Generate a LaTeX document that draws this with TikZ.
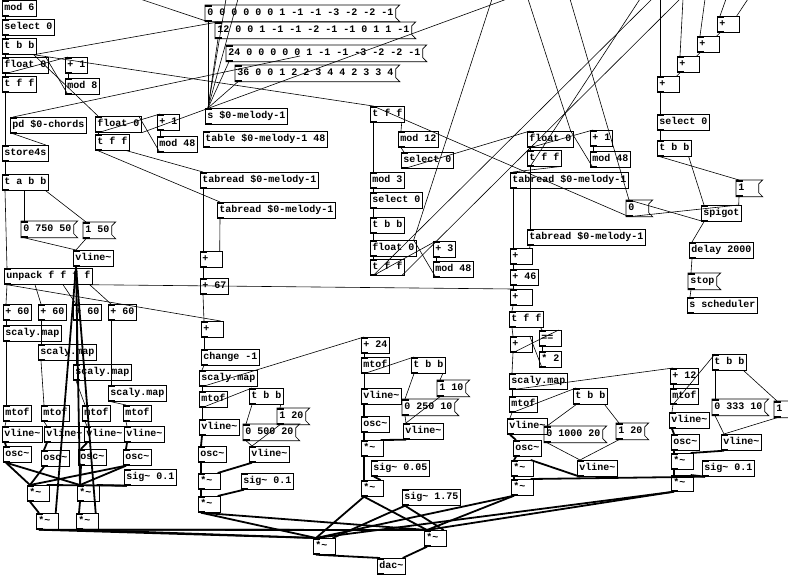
\documentclass[tikz,border=0pt]{standalone}
\usepackage{fontspec}
\newfontfamily\pdfnt{Liberation Mono}
\newlength\pdw
\newcommand\pdtext[1]{\settowidth\pdw{#1}\ifdim\pdw<18pt\pdw=18pt\fi\makebox[\pdw][l]{#1}}
\tikzset{
 obj/.style={draw, line width=0.7pt, anchor=north west, inner xsep=2pt, inner ysep=0pt,
   minimum height=16pt, font=\pdfnt\bfseries\fontsize{10}{10}\selectfont, text height=7pt, text depth=2pt},
 msgn/.style={obj, draw=none},
 bx/.style={line width=0.7pt},
 c/.style={line width=0.6pt},
 s/.style={line width=1.8pt},
}
\newcommand\pdobj[4]{\node[obj] (#1) at (#2,#3) {\pdtext{#4}};
 \fill (#1.north west) rectangle ++(7,2); \fill (#1.south west) rectangle ++(7,-2);}
\newcommand\pdmsg[4]{\node[msgn] (#1) at (#2,#3) {\pdtext{#4}};
 \draw[bx] (#1.north west) -- ([xshift=4pt]#1.north east) -- ([yshift=-4pt]#1.north east) -- ([yshift=4pt]#1.south east) -- ([xshift=4pt]#1.south east) -- (#1.south west) -- cycle;
 \fill (#1.north west) rectangle ++(7,2); \fill (#1.south west) rectangle ++(7,-2);}
\newcommand\cLL[3][c]{\draw[#1] ([xshift=3pt]#2.south west) -- ([xshift=3pt]#3.north west);}
\newcommand\cLR[3][c]{\draw[#1] ([xshift=3pt]#2.south west) -- ([xshift=-3pt]#3.north east);}
\newcommand\cRL[3][c]{\draw[#1] ([xshift=-3pt]#2.south east) -- ([xshift=3pt]#3.north west);}
\newcommand\cRR[3][c]{\draw[#1] ([xshift=-3pt]#2.south east) -- ([xshift=-3pt]#3.north east);}
\begin{document}
\begin{tikzpicture}[x=1pt,y=-1pt]
\useasboundingbox (0,0) rectangle (788,576);
\fill[white] (0,0) rectangle (788,576);
\clip (0,0) rectangle (788,576);
% ---------- top left
\pdobj{modsix}{2}{0}{mod 6}
\pdobj{selA}{2}{19}{select 0}
\pdobj{tbbA}{2}{38}{t b b}
\pdobj{floatA}{2}{57}{float 0}
\pdobj{plusA}{65}{57}{+ 1}
\pdobj{tffA}{2}{76}{t f f}
\pdobj{modA}{65}{78}{mod 8}
\pdobj{pdch}{10}{117}{pd \$0-chords}
\pdobj{store}{2}{145}{store4s}
\pdobj{tabb}{2}{174}{t a b b}
\pdobj{floatB}{95}{116}{float 0}
\pdobj{tffB}{95}{134}{t f f}
\pdobj{plusB}{157}{114}{+ 1}
\pdobj{modB}{157}{136}{mod 48}
% ---------- melody messages
\pdmsg{mA}{205}{5}{0 0 0 0 0 0 1 -1 -1 -3 -2 -2 -1}
\pdmsg{mB}{215}{22}{12 0 0 1 -1 -1 -2 -1 -1 0 1 1 -1}
\pdmsg{mC}{226}{45}{24 0 0 0 0 0 1 -1 -1 -3 -2 -2 -1}
\pdmsg{mD}{235}{65}{36 0 0 1 2 2 3 4 4 2 3 3 4}
\pdobj{smel}{205}{108}{s \$0-melody-1}
\pdobj{tabl}{203}{131}{table \$0-melody-1 48}
\pdobj{tabrA}{200}{172}{tabread \$0-melody-1}
\pdobj{tabrB}{217}{202}{tabread \$0-melody-1}
% ---------- middle upper
\pdobj{tffC}{370}{106}{t f f}
\pdobj{mod12}{398}{131}{mod 12}
\pdobj{selC}{401}{152}{select 0}
\pdobj{mod3}{370}{172}{mod 3}
\pdobj{selD}{370}{192}{select 0}
\pdobj{tbbD}{370}{217}{t b b}
\pdobj{floatD}{370}{240}{float 0}
\pdobj{tffD}{370}{259}{t f f}
\pdobj{plus3}{433}{241}{+ 3}
\pdobj{mod48D}{433}{261}{mod 48}
\pdobj{floatC}{527}{131}{float 0}
\pdobj{tffE}{527}{150}{t f f}
\pdobj{plusE}{590}{130}{+ 1}
\pdobj{modE}{590}{151}{mod 48}
\pdobj{tabrC}{510}{172}{tabread \$0-melody-1}
\pdobj{tabrD}{527}{229}{tabread \$0-melody-1}
% ---------- top right
\pdobj{addR1}{717}{16}{+}
\pdobj{addR2}{697}{36}{+}
\pdobj{addR3}{677}{56}{+}
\pdobj{addR4}{657}{76}{+}
\pdobj{selR}{657}{114}{select 0}
\pdobj{tbbR}{657}{140}{t b b}
\pdmsg{msgone}{736}{180}{1}
\pdmsg{msgzero}{626}{200}{0}
\pdobj{spig}{701}{205}{spigot}
\pdobj{delay}{689}{242}{delay 2000}
\pdmsg{stop}{688}{273}{stop}
\pdobj{ssch}{687}{297}{s scheduler}
% ---------- left bottom
\pdmsg{m750}{21}{221}{0 750 50}
\pdmsg{m150}{83}{222}{1 50}
\pdobj{vlA}{73}{250}{vline\char`~}
\pdobj{unp}{4}{268}{unpack f f f f}
\pdobj{p60a}{3}{304}{+ 60}
\pdobj{p60b}{38}{304}{+ 60}
\pdobj{p60c}{73}{304}{+ 60}
\pdobj{p60d}{108}{304}{+ 60}
\pdobj{scA}{3}{325}{scaly.map}
\pdobj{scB}{38}{344}{scaly.map}
\pdobj{scC}{73}{364}{scaly.map}
\pdobj{scD}{108}{385}{scaly.map}
\pdobj{mtA}{3}{405}{mtof}
\pdobj{mtB}{41}{405}{mtof}
\pdobj{mtC}{82}{405}{mtof}
\pdobj{mtD}{123}{405}{mtof}
\pdobj{vA}{2}{426}{vline\char`~}
\pdobj{vB}{44}{426}{vline\char`~}
\pdobj{vC}{84}{426}{vline\char`~}
\pdobj{vD}{124}{426}{vline\char`~}
\pdobj{oA}{3}{446}{osc\char`~}
\pdobj{oB}{41}{450}{osc\char`~}
\pdobj{oC}{78}{449}{osc\char`~}
\pdobj{oD}{123}{449}{osc\char`~}
\pdobj{sigA}{124}{469}{sig\char`~{} 0.1}
\pdobj{muA}{27}{485}{*\char`~}
\pdobj{muB}{77}{485}{*\char`~}
\pdobj{muC}{36}{513}{*\char`~}
\pdobj{muD}{76}{513}{*\char`~}
% ---------- middle column
\pdobj{plusM1}{200}{251}{+}
\pdobj{p67}{200}{278}{+ 67}
\pdobj{plusM2}{201}{321}{+}
\pdobj{chg}{201}{349}{change -1}
\pdobj{scM}{199}{370}{scaly.map}
\pdobj{mtM}{199}{391}{mtof}
\pdobj{tbbM}{249}{388}{t b b}
\pdmsg{m120}{277}{408}{1 20}
\pdmsg{m500}{243}{424}{0 500 20}
\pdobj{vlM}{199}{419}{vline\char`~}
\pdobj{vlMb}{249}{446}{vline\char`~}
\pdobj{oscM}{198}{446}{osc\char`~}
\pdobj{muMa}{198}{473}{*\char`~}
\pdobj{sigM}{241}{473}{sig\char`~{} 0.1}
\pdobj{muMb}{198}{496}{*\char`~}
% ---------- column 3
\pdobj{p24}{361}{337}{+ 24}
\pdobj{mt3}{361}{357}{mtof}
\pdobj{tbb3}{411}{357}{t b b}
\pdmsg{m110}{437}{380}{1 10}
\pdmsg{m250}{402}{399}{0 250 10}
\pdobj{vl3}{361}{388}{vline\char`~}
\pdobj{vl3b}{403}{423}{vline\char`~}
\pdobj{osc3}{361}{416}{osc\char`~}
\pdobj{mu3a}{361}{440}{*\char`~}
\pdobj{sigf}{371}{460}{sig\char`~{} 0.05}
\pdobj{mu3b}{361}{480}{*\char`~}
\pdobj{sigg}{402}{489}{sig\char`~{} 1.75}
% ---------- column 4
\pdobj{plus4a}{510}{248}{+}
\pdobj{p46}{510}{269}{+ 46}
\pdobj{plus4b}{510}{289}{+}
\pdobj{tff4}{509}{311}{t f f}
\pdobj{plus4c}{510}{336}{+}
\pdobj{eqq}{539}{330}{==}
\pdobj{mul2}{539}{351}{* 2}
\pdobj{sc4}{509}{373}{scaly.map}
\pdobj{mt4}{509}{396}{mtof}
\pdobj{tbb4}{573}{388}{t b b}
\pdmsg{m1000}{544}{426}{0 1000 20}
\pdmsg{m120b}{616}{423}{1 20}
\pdobj{vl4}{507}{418}{vline\char`~}
\pdobj{vl4b}{577}{460}{vline\char`~}
\pdobj{osc4}{513}{440}{osc\char`~}
\pdobj{mu4a}{511}{460}{*\char`~}
\pdobj{mu4b}{511}{479}{*\char`~}
% ---------- column 5
\pdobj{p12}{670}{368}{+ 12}
\pdobj{tbb5}{712}{354}{t b b}
\pdobj{mt5}{670}{388}{mtof}
\pdobj{vl5}{669}{412}{vline\char`~}
\pdmsg{m333}{712}{399}{0 333 10}
\pdmsg{m1r}{774}{401}{1}
\pdobj{osc5}{671}{434}{osc\char`~}
\pdobj{vl5b}{721}{434}{vline\char`~}
\pdobj{mu5a}{671}{453}{*\char`~}
\pdobj{sig5}{702}{460}{sig\char`~{} 0.1}
\pdobj{mu5b}{671}{475}{*\char`~}
% ---------- output
\pdobj{muX}{313}{538}{*\char`~}
\pdobj{muY}{424}{530}{*\char`~}
\pdobj{dac}{377}{558}{dac\char`~}
% ================= connections
\cLL{modsix}{selA}
\cLL{selA}{tbbA}
\cLL{tbbA}{floatA}
\cLL{floatA}{tffA}
\cLL{floatA}{plusA}
\cLL{plusA}{modA}
\cLR{modA}{floatA}
\cLL{tffA}{store}
\cLR{pdch}{store}
\cLL{store}{tabb}
\cRL{tbbA}{mB}
\cRL{tbbA}{tffC}
\cRL{tbbA}{floatB}
\draw[c] ([xshift=3pt]pdch.north west) -- (300,56);
\draw[c] ([xshift=3pt]mA.south west) -- (140,-1);
\draw[c] (floatB.south east) -- (507,-1);
\cLL{mA}{smel}
\cLL{mB}{smel}
\cLL{mC}{smel}
\cLL{mD}{smel}
\draw[c] (226,-1) -- ([xshift=3pt]smel.north west);
\draw[c] (238,-1) -- ([xshift=3pt]smel.north west);
\cLL{floatB}{tffB}
\cLL{floatB}{plusB}
\cLL{plusB}{modB}
\cLR{modB}{floatB}
\cRL{tffB}{tabrA}
\cLL{tffB}{tabrB}
% middle column
\cLL{tabrA}{plusM1}
\cLR{tabrB}{plusM1}
\cLL{plusM1}{p67}
\cLL{p67}{plusM2}
\cLL{plusM2}{chg}
\cLL{chg}{scM}
\cLL{scM}{mtM}
\cLL{scM}{p24}
\cLL{mtM}{vlM}
\cLL{mtM}{tbbM}
\cLL{tbbM}{m500}
\cRL{tbbM}{m120}
\cLL{m500}{vlMb}
\cLL{m120}{vlMb}
\cLL[s]{vlM}{oscM}
\cLL[s]{oscM}{muMa}
\cLR[s]{vlMb}{muMa}
\cLL[s]{muMa}{muMb}
\cLR[s]{sigM}{muMb}
\cLL[s]{muMb}{muX}
\cLL[s]{muMb}{muY}
\cLR{unp}{plusM2}
\draw[c] ([xshift=-3pt]unp.south east) -- ([xshift=3pt]plus4b.north west);
% upper middle
\cLL{tffC}{mod3}
\cRL{tffC}{mod12}
\cLL{mod12}{selC}
\cLL{selC}{floatC}
\cLL{mod3}{selD}
\cLL{selD}{tbbD}
\cLL{tbbD}{floatD}
\cLL{floatD}{tffD}
\cLL{tffD}{plus3}
\cLL{plus3}{mod48D}
\cLR{mod48D}{floatD}
\draw[c] ([xshift=3pt]tffD.south west) -- (652,-1);
\draw[c] ([xshift=-3pt]tffD.south east) -- (680,-1);
\draw[c] (492,-1) -- ([xshift=-3pt]floatD.north east);
\draw[c] (528,-1) -- ([xshift=-3pt]floatC.north east);
\cLL{floatC}{tffE}
\cLL{floatC}{plusE}
\cLL{plusE}{modE}
\cLR{modE}{floatC}
\cLL{tffE}{tabrD}
\cRL{tffE}{tabrC}
\draw[c] ([xshift=3pt]tffE.south west) -- (640,-1);
% top right
\draw[c] (726,-1) -- ([xshift=3pt]addR1.north west);
\draw[c] (748,-1) -- ([xshift=-3pt]addR1.north east);
\draw[c] (705,-1) -- ([xshift=3pt]addR2.north west);
\draw[c] (683,-1) -- ([xshift=3pt]addR3.north west);
\draw[c] (660,-1) -- ([xshift=3pt]addR4.north west);
\cLR{addR1}{addR2}
\cLR{addR2}{addR3}
\cLR{addR3}{addR4}
\cLL{addR4}{selR}
\cLL{selR}{tbbR}
\cLL{tbbR}{msgone}
\cRL{tbbR}{spig}
\cLR{msgone}{spig}
\cLL{spig}{msgzero}
\cLR{msgzero}{spig}
\draw[c] (570,-1) -- ([xshift=3pt]msgzero.north west);
\draw[c] ([xshift=3pt]msgzero.south west) -- ([xshift=3pt]tffC.north west);
\cLL{spig}{delay}
\cLL{delay}{stop}
\cLL{stop}{ssch}
% left bottom
\cLL{tabb}{unp}
\draw[c] ([xshift=22pt]tabb.south west) -- ([xshift=3pt]m750.north west);
\cRL{tabb}{m150}
\cLL{m750}{vlA}
\cLL{m150}{vlA}
\cLL{unp}{p60a}
\draw[c] ([xshift=31pt]unp.south west) -- ([xshift=3pt]p60b.north west);
\draw[c] ([xshift=59pt]unp.south west) -- ([xshift=3pt]p60c.north west);
\cRL{unp}{p60d}
\cLL{p60a}{scA}
\cLL{p60b}{scB}
\cLL{p60c}{scC}
\cLL{p60d}{scD}
\cLL{scA}{mtA}
\cLL{scB}{mtB}
\cLL{scC}{mtC}
\cLL{scD}{mtD}
\cLL{mtA}{vA}
\cLL{mtB}{vB}
\cLL{mtC}{vC}
\cLL{mtD}{vD}
\cLL[s]{vA}{oA}
\cLL[s]{vB}{oB}
\cLL[s]{vC}{oC}
\cLL[s]{vD}{oD}
\cLL[s]{oA}{muA}
\cLL[s]{oA}{muB}
\cLL[s]{oB}{muA}
\cLL[s]{oC}{muB}
\cLL[s]{oD}{muA}
\cLL[s]{oD}{muB}
\cLR[s]{sigA}{muA}
\cLR[s]{sigA}{muB}
\cLL[s]{muA}{muC}
\cLL[s]{muB}{muD}
\cLR[s]{vlA}{muC}
\cLR[s]{vlA}{muD}
\draw[s] ([xshift=3pt]vlA.south west) -- ([xshift=3pt]muB.north west);
\cLL[s]{muC}{muX}
\cLL[s]{muC}{muY}
\cLL[s]{muD}{muX}
\cLL[s]{muD}{muY}
% column 3
\cLL{p24}{mt3}
\cLL{mt3}{vl3}
\cLL{mt3}{tbb3}
\cLL{tbb3}{m250}
\cRL{tbb3}{m110}
\cLL{m250}{vl3b}
\cLL{m110}{vl3b}
\cLL[s]{vl3}{osc3}
\cLL[s]{osc3}{mu3a}
\cLR[s]{vl3b}{mu3a}
\cLL[s]{mu3a}{mu3b}
\cLR[s]{sigf}{mu3b}
\cLL[s]{mu3b}{muX}
\cLL[s]{mu3b}{muY}
\cLR[s]{sigg}{muX}
\cLR[s]{sigg}{muY}
% column 4
\cLL{tabrC}{plus4a}
\cLR{tabrD}{plus4a}
\cLL{plus4a}{p46}
\cLL{p46}{plus4b}
\cLL{plus4b}{tff4}
\cLL{tff4}{plus4c}
\cRL{tff4}{eqq}
\cLR{plus4c}{eqq}
\cLL{eqq}{mul2}
\cLR{mul2}{plus4c}
\cLL{plus4c}{sc4}
\cLL{sc4}{mt4}
\cLL{sc4}{p12}
\cLL{mt4}{vl4}
\cLL{mt4}{tbb4}
\cLL{tbb4}{m1000}
\cRL{tbb4}{m120b}
\cLL{m1000}{vl4b}
\cLL{m120b}{vl4b}
\cLL[s]{vl4}{osc4}
\cLL[s]{osc4}{mu4a}
\cLR[s]{vl4b}{mu4a}
\cLL[s]{mu4a}{mu4b}
\cLR[s]{sig5}{mu4b}
\cLL[s]{mu4b}{muX}
\cLL[s]{mu4b}{muY}
% column 5
\cLL{p12}{mt5}
\cLL{mt5}{vl5}
\cLL{mt5}{tbb5}
\cLL{tbb5}{m333}
\cRL{tbb5}{m1r}
\cLL{m333}{vl5b}
\cLL{m1r}{vl5b}
\cLL[s]{vl5}{osc5}
\cLL[s]{osc5}{mu5a}
\cLR[s]{vl5b}{mu5a}
\cLL[s]{mu5a}{mu5b}
\cLR[s]{sig5}{mu5b}
\cLL[s]{mu5b}{muX}
\cLL[s]{mu5b}{muY}
% output
\cLL[s]{muX}{dac}
\cLR[s]{muY}{dac}
\end{tikzpicture}
\end{document}
